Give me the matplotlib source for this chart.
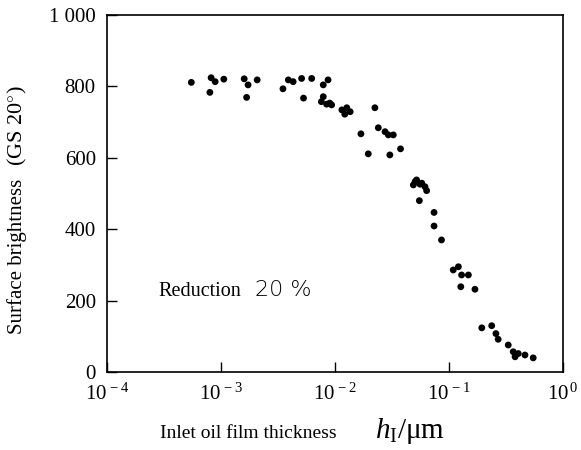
import numpy as np
import matplotlib
matplotlib.use("Agg")
import matplotlib.pyplot as plt

plt.rcParams['font.family'] = ['Liberation Serif', 'DejaVu Serif']
plt.rcParams['mathtext.fontset'] = 'custom'
plt.rcParams['mathtext.rm'] = 'Liberation Serif'
plt.rcParams['mathtext.it'] = 'Liberation Serif:italic'

# inlet oil film thickness (um) and surface brightness (GS 20 deg)
thickness = [5.5e-4, 8.2e-4, 8.9e-4, 1.06e-3, 8.0e-4,
             1.6e-3, 1.73e-3, 2.08e-3, 1.68e-3,
             3.5e-3, 3.9e-3, 4.3e-3, 5.1e-3, 6.25e-3, 5.3e-3,
             8.7e-3, 7.9e-3, 7.9e-3, 9.0e-3, 7.6e-3, 8.45e-3, 9.35e-3,
             1.15e-2, 1.27e-2, 1.36e-2, 1.22e-2, 2.24e-2, 1.69e-2,
             2.4e-2, 2.75e-2, 2.94e-2, 3.25e-2, 1.96e-2, 3.03e-2, 3.76e-2,
             5.04e-2, 5.57e-2, 6.16e-2, 4.87e-2, 5.2e-2, 5.77e-2, 6.37e-2,
             5.5e-2, 7.4e-2, 7.4e-2, 8.6e-2,
             0.109, 0.121, 0.129, 0.148, 0.127, 0.169,
             0.194, 0.237, 0.258, 0.27,
             0.331, 0.366, 0.405, 0.464, 0.548, 0.38]
brightness = [811, 824, 813, 820, 783,
              821, 804, 818, 769,
              793, 818, 813, 822, 822, 767,
              818, 804, 771, 753, 757, 750, 748,
              734, 740, 729, 722, 740, 667,
              684, 673, 664, 664, 611, 608, 625,
              533, 526, 519, 524, 538, 529, 508,
              480, 447, 409, 370,
              286, 295, 272, 272, 239, 232,
              124, 130, 108, 92,
              76, 57, 52, 48, 40, 43]

x_ticks = [1e-4, 1e-3, 1e-2, 1e-1, 1e0]
x_labels = [r'$10^{\,-4}$', r'$10^{\,-3}$', r'$10^{\,-2}$', r'$10^{\,-1}$', r'$10^{\,0}$']
y_ticks = [0, 200, 400, 600, 800, 1000]
y_labels = ['0', '200', '400', '600', '800', '1 000']

fig = plt.figure(figsize=(5.81, 4.5), dpi=100)
ax = fig.add_axes([0.184, 0.173, 0.785, 0.794])

ax.scatter(thickness, brightness, s=24, color='black', edgecolors='none')

ax.set_xscale('log')
ax.set_xlim(1e-4, 1e0)
ax.set_ylim(0, 1000)
ax.set_xticks(x_ticks)
ax.set_xticklabels(x_labels, fontsize=15)
ax.minorticks_off()
ax.set_yticks(y_ticks)
ax.set_yticklabels(y_labels, fontsize=15)
ax.tick_params(direction='in', length=7, width=1, pad=8)

for s in ax.spines.values():
    s.set_linewidth(1.2)

# annotation inside the plot
ax.text(0.112, 0.213, 'Reduction', transform=ax.transAxes, fontsize=14.5,
        va='baseline')
ax.text(0.325, 0.213, '20 %', transform=ax.transAxes, fontsize=16,
        va='baseline', family='DejaVu Sans', fontweight='light')

# axis titles
fig.text(0.275, 0.027, 'Inlet oil film thickness', fontsize=14, va='baseline')
fig.text(0.645, 0.027, r'$h_{\rm I}$/μm', fontsize=21, va='baseline')
fig.text(0.03, 0.43, 'Surface brightness', fontsize=15, rotation=90,
         ha='center', va='center')
fig.text(0.03, 0.72, '(GS 20$^{\circ}$)', fontsize=16, rotation=90,
         ha='center', va='center')

fig.savefig('out.png', dpi=100)
